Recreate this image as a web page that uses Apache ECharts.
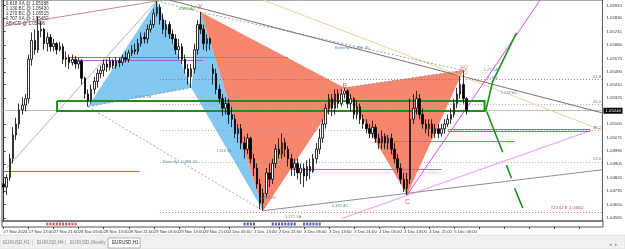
<!DOCTYPE html>
<html><head><meta charset="utf-8">
<script src="https://cdn.jsdelivr.net/npm/echarts@6/dist/echarts.min.js"></script>
<style>html,body{margin:0;padding:0;background:#fff;overflow:hidden}#c{width:625px;height:249px}</style>
</head><body><div id="c"></div>
<script>
// ---------------- data ----------------
var tickLabels = ['27 Nov 2024','27 Nov 13:00','27 Nov 21:00','28 Nov 05:00','28 Nov 13:00','28 Nov 21:00','29 Nov 05:00','29 Nov 13:00','29 Nov 21:00','2 Dec 05:00','2 Dec 13:00','2 Dec 21:00','3 Dec 05:00','3 Dec 13:00','3 Dec 21:00','4 Dec 05:00','4 Dec 13:00','4 Dec 21:00','5 Dec 05:00'];
var priceTicks = [1.05910,1.05830,1.05745,1.05660,1.05575,1.05490,1.05410,1.05325,1.05160,1.05075,1.04990,1.04905,1.04820,1.04735,1.04650,1.04565];
var lastPrice = 1.05244;
var opens = [1.0478,1.0476,1.0482,1.0494,1.0509,1.0516,1.0525,1.0528,1.0532,1.0557,
1.0569,1.0563,1.0575,1.0576,1.0567,1.0571,1.0565,1.0567,1.0563,1.0565,
1.0557,1.0558,1.0555,1.0557,1.0554,1.0556,1.0545,1.0535,1.0531,1.0538,
1.0543,1.0548,1.0550,1.0554,1.0552,1.0556,1.0553,1.0556,1.0555,1.0558,
1.0557,1.0561,1.0563,1.0562,1.0567,1.0571,1.0570,1.0576,1.0579,1.0586,
1.0590,1.0582,1.0576,1.0579,1.0573,1.0570,1.0563,1.0565,1.0557,1.0551,
1.0546,1.0551,1.0563,1.0579,1.0576,1.0567,1.0570,1.0551,1.0548,1.0538,
1.0532,1.0526,1.0529,1.0522,1.0519,1.0510,1.0513,1.0504,1.0500,1.0507,
1.0494,1.0488,1.0478,1.0466,1.0472,1.0485,1.0481,1.0491,1.0500,1.0497,
1.0504,1.0500,1.0494,1.0488,1.0491,1.0485,1.0488,1.0483,1.0489,1.0486,
1.0494,1.0500,1.0507,1.0516,1.0526,1.0532,1.0526,1.0535,1.0529,1.0535,
1.0537,1.0529,1.0532,1.0522,1.0527,1.0519,1.0516,1.0513,1.0510,1.0514,
1.0507,1.0504,1.0508,1.0504,1.0507,1.0500,1.0494,1.0488,1.0481,1.0475,
1.0481,1.0519,1.0526,1.0532,1.0522,1.0516,1.0513,1.0516,1.0510,1.0513,
1.0510,1.0513,1.0516,1.0519,1.0522,1.0529,1.0535,1.0541,1.0532];
var closes = [1.0476,1.0482,1.0494,1.0509,1.0516,1.0525,1.0528,1.0532,1.0557,1.0569,
1.0563,1.0575,1.0576,1.0567,1.0571,1.0565,1.0567,1.0563,1.0565,1.0557,
1.0558,1.0555,1.0557,1.0554,1.0556,1.0545,1.0535,1.0531,1.0538,1.0543,
1.0548,1.0550,1.0554,1.0552,1.0556,1.0553,1.0556,1.0555,1.0558,1.0557,
1.0561,1.0563,1.0562,1.0567,1.0571,1.0570,1.0576,1.0579,1.0586,1.0590,
1.0582,1.0576,1.0579,1.0573,1.0570,1.0563,1.0565,1.0557,1.0551,1.0546,
1.0551,1.0563,1.0579,1.0576,1.0567,1.0570,1.0567,1.0548,1.0538,1.0532,
1.0526,1.0529,1.0522,1.0519,1.0510,1.0513,1.0504,1.0500,1.0507,1.0494,
1.0488,1.0478,1.0466,1.0472,1.0485,1.0481,1.0491,1.0500,1.0497,1.0504,
1.0500,1.0494,1.0488,1.0491,1.0485,1.0488,1.0483,1.0489,1.0486,1.0494,
1.0500,1.0507,1.0516,1.0526,1.0532,1.0526,1.0535,1.0529,1.0535,1.0537,
1.0529,1.0532,1.0522,1.0527,1.0519,1.0516,1.0513,1.0510,1.0514,1.0507,
1.0504,1.0508,1.0504,1.0507,1.0500,1.0494,1.0488,1.0481,1.0475,1.0481,
1.0519,1.0526,1.0532,1.0522,1.0516,1.0513,1.0516,1.0510,1.0513,1.0510,
1.0513,1.0516,1.0519,1.0522,1.0529,1.0535,1.0541,1.0532,1.05244];
var lows = [1.0472,1.0471,1.0480,1.0491,1.0506,1.0513,1.0522,1.0524,1.0529,1.0553,
1.0560,1.0561,1.0571,1.0563,1.0562,1.0562,1.0562,1.0560,1.0562,1.0554,
1.0552,1.0551,1.0553,1.0551,1.0551,1.0541,1.0532,1.0527,1.0529,1.0535,
1.0539,1.0545,1.0546,1.0549,1.0550,1.0551,1.0551,1.0552,1.0553,1.0555,
1.0555,1.0559,1.0560,1.0560,1.0565,1.0567,1.0567,1.0574,1.0577,1.0584,
1.0579,1.0573,1.0571,1.0570,1.0567,1.0560,1.0557,1.0554,1.0548,1.0541,
1.0539,1.0548,1.0560,1.0573,1.0563,1.0562,1.0563,1.0541,1.0535,1.0529,
1.0521,1.0522,1.0516,1.0514,1.0507,1.0504,1.0500,1.0494,1.0497,1.0491,
1.0483,1.0475,1.0462,1.0461,1.0469,1.0476,1.0478,1.0488,1.0494,1.0494,
1.0495,1.0489,1.0483,1.0483,1.0481,1.0478,1.0476,1.0480,1.0481,1.0485,
1.0491,1.0497,1.0504,1.0513,1.0522,1.0521,1.0522,1.0526,1.0527,1.0532,
1.0526,1.0524,1.0519,1.0519,1.0516,1.0513,1.0510,1.0507,1.0507,1.0504,
1.0500,1.0500,1.0500,1.0500,1.0497,1.0491,1.0485,1.0478,1.0473,1.0471,
1.0478,1.0516,1.0522,1.0519,1.0513,1.0510,1.0508,1.0507,1.0507,1.0507,
1.0508,1.0510,1.0514,1.0516,1.0520,1.0526,1.0532,1.0529,1.0522];
var highs = [1.0481,1.0484,1.0497,1.0514,1.0520,1.0529,1.0533,1.0535,1.0560,1.0574,
1.0576,1.0584,1.0581,1.0577,1.0574,1.0573,1.0570,1.0568,1.0568,1.0567,
1.0562,1.0560,1.0560,1.0559,1.0558,1.0557,1.0546,1.0538,1.0541,1.0546,
1.0551,1.0553,1.0557,1.0557,1.0558,1.0557,1.0558,1.0558,1.0560,1.0562,
1.0563,1.0566,1.0567,1.0570,1.0574,1.0574,1.0579,1.0582,1.0589,1.0594,
1.0592,1.0586,1.0582,1.0581,1.0576,1.0573,1.0570,1.0567,1.0560,1.0554,
1.0554,1.0567,1.0582,1.0587,1.0579,1.0573,1.0571,1.0554,1.0551,1.0541,
1.0535,1.0533,1.0532,1.0527,1.0522,1.0516,1.0516,1.0508,1.0510,1.0508,
1.0497,1.0491,1.0481,1.0475,1.0488,1.0491,1.0494,1.0503,1.0507,1.0510,
1.0507,1.0502,1.0497,1.0494,1.0494,1.0491,1.0491,1.0493,1.0494,1.0497,
1.0504,1.0513,1.0519,1.0529,1.0535,1.0535,1.0538,1.0538,1.0538,1.0539,
1.0538,1.0535,1.0533,1.0531,1.0529,1.0522,1.0519,1.0516,1.0518,1.0516,
1.0510,1.0512,1.0510,1.0509,1.0510,1.0504,1.0497,1.0491,1.0485,1.0485,
1.0532,1.0535,1.0537,1.0535,1.0526,1.0519,1.0519,1.0519,1.0516,1.0516,
1.0516,1.0519,1.0522,1.0526,1.0532,1.0539,1.0546,1.0550,1.0533];

// harmonic pattern points (bar index, price): X A B C D
var blueIdx = [27,49,60,63,83];
var bluePx  = [1.0527,1.0594,1.0539,1.0587,1.0461];
var redIdx  = [63,83,109,129,147];
var redPx   = [1.0587,1.0461,1.0539,1.0471,1.0550];

// trend lines [[idx,price],[idx,price]]
var lineDarkRed   = [[0,1.0578],[49,1.0594]];
var lineDark      = [[53,1.05946],[191.5,1.0523]];
var lineTan       = [[83,1.05946],[191.5,1.0512]];
var lineAC        = [[83,1.0461],[191.5,1.0487]];
var lineMagSteep  = [[129,1.0471],[171.6,1.05946]];
var lineMagThin   = [[108,1.0456],[188,1.0512]];
var lineGrayLeft  = [[1,1.0488],[49,1.0594]];
// horizontal levels [startIdx, endIdx, price]
var purpleLevels = [[20.6,63.7,1.05584],[20.6,63.7,1.05565],[-0.5,43.6,1.04861],[142,187.5,1.05126],[142,187.5,1.05113]];
var magentaLevels = [[63.7,91,1.05586],[92,140,1.04873],[118.5,163.5,1.05050]];
var fibLevels = [1.05441,1.05284,1.05119,1.04917,1.04602];
var fibNames = ['61.8','50.0','38.2','23.6',''];
// green zone [startIdx,endIdx,top,bottom]
var greenZone = [17.1,153.8,1.05306,1.05242];
var arrowUp = [[154.1,1.05239],[156.4,1.05429],[164,1.05738]];
var arrowsDown = [[[154.5,1.05239],[159.6,1.04981]],[[160.8,1.04899],[162.4,1.04816]],[[163.4,1.04753],[166,1.04627]]];
// indicator strip
var redDots = [14,15,16,17,18,19,20,21,22,23];
var blueDots = [77,78,79,80,86,87,88,89,90,91,92,93,96,97,98,99,100,101];
// info text
var infoLines = ['- 0.618 XA @ 1.05388','- 1.130 BC @ 1.05430','- 1.270 BC @ 1.05515','- 0.707 XA @ 1.05452','- AB=CD @ 1.05496'];
// pattern labels [idx, price]
var letterPos = [[62.8,1.05902],[109.1,1.05403],[129.2,1.04665],[147.1,1.05504]];
var letterText = ['X','B','C','D'];
var noteText = ['Butterfly - 0.886 XD','0.886 AC','0.618 XB','Butterfly - 0.886 XD','1.618 BC','2.618 BC','0.382 AC','1.272 XA','1.27 XA','0.886','1.618 BC','TZ3 61.8  1.04602'];
var notePos = [[106,1.05640],[56,1.05890],[42,1.05330],[51,1.04920],[68,1.04990],[82,1.04690],[105,1.04640],[90,1.04570],[153.5,1.05505],[155,1.05450],[159,1.05360],[175,1.04625]];

// ---------------- build ----------------
var SLOTS = 192;
var cats = [];
for (var i = 0; i < SLOTS; i++) cats.push(i % 8 === 0 && i / 8 < tickLabels.length ? tickLabels[i / 8] : '');
var candles = opens.map(function (o, k) { return [o, closes[k], lows[k], highs[k]]; });
function tri(ix, px, a, b, c) { return [ix[a], px[a], ix[b], px[b], ix[c], px[c]]; }
var triData = [tri(blueIdx, bluePx, 0, 1, 2), tri(blueIdx, bluePx, 2, 3, 4), tri(redIdx, redPx, 0, 1, 2), tri(redIdx, redPx, 2, 3, 4)];
var triFill = ['#82c8f0', '#82c8f0', '#f7866f', '#f7866f'];
function P(ix, px, k) { return [ix[k], px[k]]; }

var segs = [];
function seg(c, color, w, type) { segs.push({ coords: c, lineStyle: { color: color, width: w, type: type || 'solid', opacity: 1 } }); }
seg([[-0.5, lastPrice], [191.5, lastPrice]], '#b0b0b0', 0.8);
fibLevels.forEach(function (p, k) { seg([[50, p], [191.5, p]], k === 0 ? '#a05a5a' : (k === 4 ? '#d04848' : '#9a9a9a'), 0.8, [1, 2]); });
seg(lineDarkRed, '#b86a6a', 0.8);
seg(lineGrayLeft, '#909090', 0.7);
seg(lineDark, '#6e5e5e', 0.9);
seg(lineTan, '#e6d3a3', 1);
seg(lineAC, '#707070', 0.8);
seg(lineMagSteep, '#e048e0', 1);
seg(lineMagThin, '#e080e8', 0.8);
seg([P(redIdx, redPx, 0), P(redIdx, redPx, 4)], '#8a8a8a', 0.8, [2, 2]);
seg([P(redIdx, redPx, 2), P(redIdx, redPx, 4)], '#8a8a8a', 0.8, [2, 2]);
seg([P(blueIdx, bluePx, 0), P(blueIdx, bluePx, 4)], '#8a8a8a', 0.8, [2, 2]);
seg([P(blueIdx, bluePx, 0), P(blueIdx, bluePx, 2)], '#8a8a8a', 0.8, [2, 2]);
seg([P(blueIdx, bluePx, 1), P(blueIdx, bluePx, 3)], '#8a8a8a', 0.8, [2, 2]);
purpleLevels.forEach(function (l) { seg([[l[0], l[2]], [l[1], l[2]]], '#b058d8', 1.2); });
magentaLevels.forEach(function (l) { seg([[l[0], l[2]], [l[1], l[2]]], '#d058e0', 1.2); });
var gz = greenZone;
var greenRect = [{ coords: [[gz[0], gz[2]], [gz[1], gz[2]], [gz[1], gz[3]], [gz[0], gz[3]], [gz[0], gz[2]]] }];
var arrowData = [{ coords: arrowUp }].concat(arrowsDown.map(function (a) { return { coords: a }; }));

var FONT = 'Liberation Sans';
var option = {
  animation: false,
  backgroundColor: '#ffffff',
  grid: [
    { left: 2, right: 22, top: 0, height: 221, show: true, borderColor: '#555', borderWidth: 1, backgroundColor: '#fff' },
    { left: 2, right: 22, top: 221, height: 6, show: true, borderColor: '#555', borderWidth: 1 }
  ],
  xAxis: [
    { type: 'category', gridIndex: 0, data: cats, boundaryGap: true, axisLine: { show: false }, axisTick: { show: false }, axisLabel: { show: false }, splitLine: { show: false } },
    { type: 'value', gridIndex: 0, min: -0.5, max: SLOTS - 0.5, show: false },
    { type: 'category', gridIndex: 1, data: cats, boundaryGap: true, axisLine: { show: false },
      axisTick: { show: true, alignWithLabel: true, length: 2, interval: function (k) { return k % 8 === 0; }, lineStyle: { color: '#444' } },
      axisLabel: { show: true, showMinLabel: true, hideOverlap: false, interval: function (k) { return k % 8 === 0; }, align: 'left', fontSize: 4.2, fontFamily: FONT, color: '#333', margin: 3 } }
  ],
  yAxis: [
    { type: 'value', gridIndex: 0, min: 1.04545, max: 1.05946, position: 'right', scale: true,
      axisLine: { show: true, lineStyle: { color: '#333' } },
      axisTick: { show: true, length: 2, customValues: priceTicks, lineStyle: { color: '#333' } },
      axisLabel: { show: true, customValues: priceTicks, fontSize: 4.3, fontFamily: FONT, color: '#333', margin: 4, formatter: function (v) { return v.toFixed(5); } },
      splitLine: { show: false } },
    { type: 'value', gridIndex: 1, min: 0, max: 1, show: false }
  ],
  series: [
    { type: 'custom', xAxisIndex: 1, yAxisIndex: 0, z: 1, silent: true, data: triData,
      renderItem: function (params, api) {
        var t = triData[params.dataIndex];
        return { type: 'polygon', shape: { points: [api.coord([t[0], t[1]]), api.coord([t[2], t[3]]), api.coord([t[4], t[5]])] }, style: { fill: triFill[params.dataIndex] } };
      } },
    { type: 'lines', coordinateSystem: 'cartesian2d', xAxisIndex: 1, yAxisIndex: 0, z: 2, silent: true, polyline: false, data: segs },
    { type: 'lines', coordinateSystem: 'cartesian2d', xAxisIndex: 1, yAxisIndex: 0, z: 3, silent: true, polyline: true, data: greenRect, lineStyle: { color: '#1f8f1f', width: 2, opacity: 1 } },
    { type: 'candlestick', xAxisIndex: 0, yAxisIndex: 0, z: 4, barWidth: 2, data: candles,
      itemStyle: { color: '#ffffff', color0: '#000000', borderColor: '#000000', borderColor0: '#000000', borderWidth: 0.8 } },
    { type: 'lines', coordinateSystem: 'cartesian2d', xAxisIndex: 1, yAxisIndex: 0, z: 5, silent: true, polyline: true, data: arrowData,
      symbol: ['none', 'arrow'], symbolSize: [3, 6], lineStyle: { color: '#1f8f1f', width: 1.6, opacity: 1 } },
    { type: 'custom', xAxisIndex: 1, yAxisIndex: 0, z: 6, silent: true, clip: false, data: letterPos,
      renderItem: function (params, api) {
        var p = api.coord(letterPos[params.dataIndex]);
        var t = letterText[params.dataIndex];
        var els = [{ type: 'text', x: p[0], y: p[1], style: { text: t, fill: '#e06060', fontSize: 7, fontFamily: FONT, align: 'center', verticalAlign: 'middle' } }];
        if (t === 'D') els.unshift({ type: 'rect', shape: { x: p[0] - 3.5, y: p[1] - 4, width: 7, height: 8 }, style: { fill: 'none', stroke: '#e8a0a0', lineWidth: 0.6 } });
        return { type: 'group', children: els };
      } },
    { type: 'custom', xAxisIndex: 1, yAxisIndex: 0, z: 6, silent: true, clip: false, data: notePos,
      renderItem: function (params, api) {
        var p = api.coord(notePos[params.dataIndex]);
        var k = params.dataIndex;
        var col = k === 11 ? '#d04040' : (k === 1 ? '#3a9a3a' : '#5f8fb0');
        return { type: 'text', x: p[0], y: p[1], style: { text: noteText[k], fill: col, fontSize: 4, fontFamily: FONT, align: 'left', verticalAlign: 'middle' } };
      } },
    { type: 'custom', xAxisIndex: 1, yAxisIndex: 0, z: 6, silent: true, clip: false, data: fibLevels,
      renderItem: function (params, api) {
        var p = api.coord([188.5, fibLevels[params.dataIndex]]);
        return { type: 'text', x: p[0], y: p[1] - 1, style: { text: fibNames[params.dataIndex], fill: '#a05a5a', fontSize: 4, fontFamily: FONT, align: 'left', verticalAlign: 'bottom' } };
      } },
    { type: 'custom', xAxisIndex: 1, yAxisIndex: 0, z: 7, silent: true, clip: false, data: [[SLOTS - 0.5, lastPrice]],
      renderItem: function (params, api) {
        var p = api.coord([SLOTS - 0.5, lastPrice]);
        return { type: 'group', children: [
          { type: 'rect', shape: { x: p[0] + 1, y: p[1] - 3, width: 19, height: 6 }, style: { fill: '#000' } },
          { type: 'text', x: p[0] + 3, y: p[1], style: { text: lastPrice.toFixed(5), fill: '#fff', fontSize: 4.3, fontFamily: FONT, verticalAlign: 'middle' } }
        ] };
      } },
    { type: 'scatter', xAxisIndex: 2, yAxisIndex: 1, symbol: 'rect', symbolSize: [2, 3], silent: true, itemStyle: { color: '#d02828' }, data: redDots.map(function (k) { return [k, 0.5]; }) },
    { type: 'scatter', xAxisIndex: 2, yAxisIndex: 1, symbol: 'rect', symbolSize: [2, 3], silent: true, itemStyle: { color: '#2830c0' }, data: blueDots.map(function (k) { return [k, 0.5]; }) }
  ],
  graphic: [
    { type: 'group', children: infoLines.map(function (t, k) {
      return { type: 'text', x: 3, y: 1 + k * 5, style: { text: t, fill: '#333', fontSize: 4.6, fontFamily: FONT } };
    }) },
    { type: 'rect', shape: { x: 0, y: 235, width: 625, height: 14 }, style: { fill: '#f0f0f0', stroke: '#d8d8d8', lineWidth: 0.6 } },
    { type: 'text', x: 3, y: 240, style: { text: 'EURUSD,H1', fill: '#888', fontSize: 4.6, fontFamily: FONT } },
    { type: 'text', x: 32, y: 240, style: { text: '|', fill: '#aaa', fontSize: 4.6, fontFamily: FONT } },
    { type: 'text', x: 37, y: 240, style: { text: 'EURUSD,H4', fill: '#888', fontSize: 4.6, fontFamily: FONT } },
    { type: 'text', x: 65, y: 240, style: { text: '|', fill: '#aaa', fontSize: 4.6, fontFamily: FONT } },
    { type: 'text', x: 70, y: 240, style: { text: 'EURUSD,Weekly', fill: '#888', fontSize: 4.6, fontFamily: FONT } },
    { type: 'rect', shape: { x: 108, y: 238, width: 32, height: 10 }, style: { fill: '#fff', stroke: '#888', lineWidth: 0.6 } },
    { type: 'text', x: 112, y: 240.5, style: { text: 'EURUSD,H1', fill: '#222', fontSize: 4.6, fontFamily: FONT } },
    { type: 'text', x: 609, y: 242, style: { text: '◂  ▸', fill: '#999', fontSize: 5, fontFamily: FONT } }
  ]
};
var chart = echarts.init(document.getElementById('c'));
chart.setOption(option);
</script></body></html>
